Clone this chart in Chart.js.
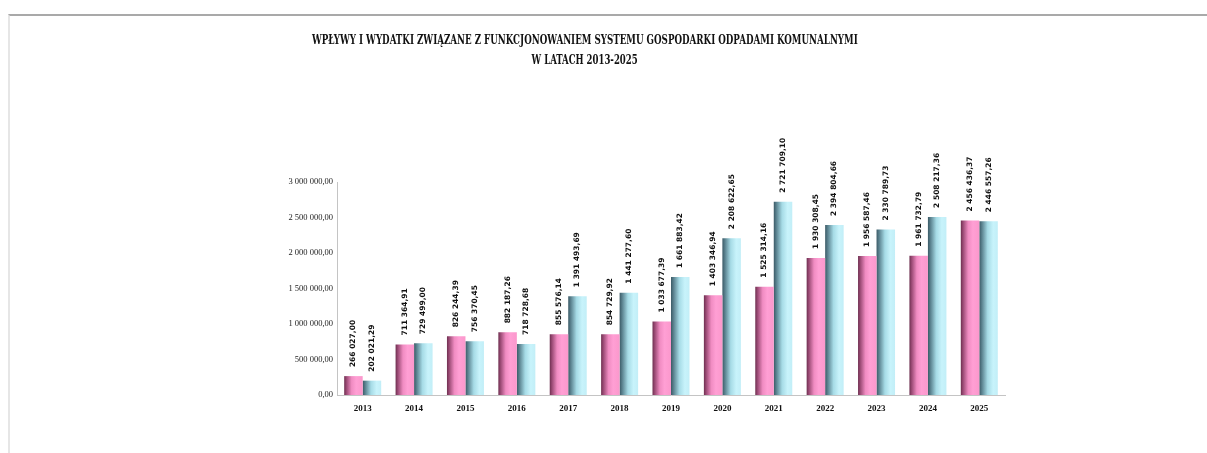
<!DOCTYPE html>
<html lang="pl">
<head>
<meta charset="utf-8">
<title>Wpływy i wydatki 2013-2025</title>
<script src="https://cdn.jsdelivr.net/npm/chart.js@4"></script>
<style>
  html, body { margin: 0; padding: 0; background: #fff; }
  #wrap { position: relative; width: 1207px; height: 453px; overflow: hidden; }
  #frame {
    position: absolute; left: 8px; top: 14px; right: 0; bottom: 0;
    border-top: 2px solid #a9a9a9; border-left: 2px solid #e6e6e6;
  }
  #title {
    position: absolute; left: 0; top: 30px; width: 1170px; text-align: center;
    font-family: "DejaVu Serif Condensed", "Liberation Serif", serif;
    font-weight: bold; font-size: 13px; line-height: 20px; color: #111;
  }
  #title span { display: inline-block; transform-origin: center; white-space: nowrap; }
  #chart { position: absolute; left: 0; top: 0; }
</style>
</head>
<body>
<div id="wrap">
  <div id="frame"></div>
  <canvas id="chart" width="1207" height="453"></canvas>
  <div id="title">
    <span id="t1">WPŁYWY I WYDATKI ZWIĄZANE Z FUNKCJONOWANIEM SYSTEMU GOSPODARKI ODPADAMI KOMUNALNYMI</span><br>
    <span id="t2">W LATACH 2013-2025</span>
  </div>
</div>
<script>
// ── data ─────────────────────────────────────────────
const YEARS = ['2013', '2014', '2015', '2016', '2017', '2018', '2019', '2020', '2021', '2022', '2023', '2024', '2025'];
const WPLYWY = [266027.00, 711364.91, 826244.39, 882187.26, 855576.14, 854729.92, 1033677.39,
  1403346.94, 1525314.16, 1930308.45, 1956587.46, 1961732.79, 2456436.37];
const WYDATKI = [202021.29, 729499.00, 756370.45, 718728.68, 1391493.69, 1441277.60, 1661883.42,
  2208622.65, 2721709.10, 2394804.66, 2330789.73, 2508217.36, 2446557.26];
const Y_MAX = 3000000;
const Y_STEP = 500000;

const CAT_PCT = 0.72;

// squeeze the title to the narrow look of the original
function fitTitle() {
  const targets = { t1: 546, t2: 106 };
  Object.keys(targets).forEach(id => {
    const el = document.getElementById(id);
    const w = el.getBoundingClientRect().width;
    el.style.transform = 'scaleX(' + (targets[id] / w).toFixed(3) + ')';
  });
}
fitTitle();

// "1 234 567,89"
function plNumber(v) {
  const parts = v.toFixed(2).split('.');
  const int = parts[0].replace(/\B(?=(\d{3})+(?!\d))/g, ' ');
  return int + ',' + parts[1];
}

const GRADS = [
  [[0, '#6e2f50'], [0.12, '#9a4a74'], [0.4, '#f08cc2'], [0.65, '#ff9fd4'], [1, '#fb98cc']],
  [[0, '#3b5a66'], [0.15, '#5d8592'], [0.45, '#a6dbe6'], [0.75, '#c8f3fb'], [1, '#c2eef7']],
];

function barFill(ctx) {
  const chart = ctx.chart;
  const xs = chart.scales.x;
  const fallback = GRADS[ctx.datasetIndex][3][1];
  if (!xs || ctx.dataIndex === undefined || !chart.chartArea) return fallback;
  const c = xs.getPixelForValue(ctx.dataIndex);
  const w = (xs.width / YEARS.length) * CAT_PCT / 2;
  const left = ctx.datasetIndex === 0 ? c - w : c;
  const g = chart.ctx.createLinearGradient(left, 0, left + w, 0);
  GRADS[ctx.datasetIndex].forEach(s => g.addColorStop(s[0], s[1]));
  return g;
}

// vertical value labels above each bar
const valueLabels = {
  id: 'valueLabels',
  afterDatasetsDraw(chart) {
    const c = chart.ctx;
    c.save();
    c.font = 'bold 7.5px "DejaVu Sans", sans-serif';
    c.fillStyle = '#111';
    c.textAlign = 'left';
    c.textBaseline = 'middle';
    chart.data.datasets.forEach((ds, di) => {
      chart.getDatasetMeta(di).data.forEach((bar, i) => {
        c.save();
        c.translate(bar.x, bar.y - 9);
        c.rotate(-Math.PI / 2);
        c.fillText(plNumber(ds.data[i]), 0, 0);
        c.restore();
      });
    });
    c.restore();
  }
};

new Chart(document.getElementById('chart'), {
  type: 'bar',
  data: {
    labels: YEARS,
    datasets: [
      { label: 'Wpływy', data: WPLYWY, backgroundColor: barFill, borderWidth: 0 },
      { label: 'Wydatki', data: WYDATKI, backgroundColor: barFill, borderWidth: 0 },
    ],
  },
  options: {
    responsive: false, animation: false,
    categoryPercentage: CAT_PCT, barPercentage: 1,
    layout: { padding: { left: 272, top: 182, right: 202, bottom: 38 } },
    plugins: { legend: { display: false }, tooltip: { enabled: false } },
    scales: {
      x: {
        grid: { display: false, drawTicks: false },
        border: { color: '#c4c4c4', width: 1 },
        ticks: { color: '#111', padding: 8, font: { family: 'Liberation Serif', size: 9, weight: 'bold' } },
        afterFit: s => { s.height = 20; },
      },
      y: {
        min: 0, max: Y_MAX,
        grid: { display: false, drawTicks: false },
        border: { color: '#c4c4c4', width: 1 },
        ticks: {
          stepSize: Y_STEP, padding: 4, color: '#222',
          font: { family: 'Liberation Serif', size: 8.5 },
          callback: v => plNumber(v),
        },
        afterFit: s => { s.width = 65; },
      },
    },
  },
  plugins: [valueLabels],
});
</script>
</body>
</html>
